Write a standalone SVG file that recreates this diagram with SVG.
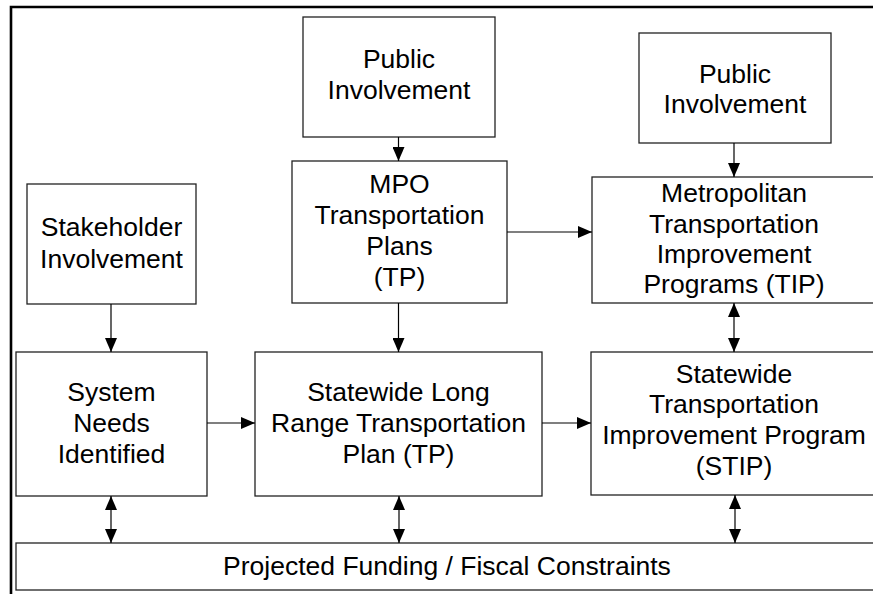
<svg xmlns="http://www.w3.org/2000/svg" width="873" height="594" viewBox="0 0 873 594">
<style>
.box{fill:#fff;stroke:#222;stroke-width:1.3}
.t{font-family:"Liberation Sans",Arial,sans-serif;font-size:26.5px;fill:#000;text-anchor:middle}
.c{stroke:#000;stroke-width:1.2;fill:none}
</style>
<defs>
<marker id="ah" viewBox="0 0 14 12" markerWidth="14" markerHeight="12" refX="14" refY="6" orient="auto-start-reverse" markerUnits="userSpaceOnUse">
<path d="M0,0 L14,6 L0,12 z" fill="#000"/>
</marker>
</defs>
<rect width="873" height="594" fill="#fff"/>
<path d="M11,600 V7 H880" fill="none" stroke="#000" stroke-width="2.6"/>

<g id="pi-center"><rect class="box" x="303" y="17" width="192" height="120"/>
<text class="t" x="399" y="68">Public</text><text class="t" x="399" y="99">Involvement</text></g>

<g id="pi-right"><rect class="box" x="639" y="33" width="192" height="110"/>
<text class="t" x="735" y="83">Public</text><text class="t" x="735" y="113">Involvement</text></g>

<g id="stakeholder"><rect class="box" x="27" y="184" width="169" height="120"/>
<text class="t" x="111.5" y="236">Stakeholder</text><text class="t" x="111.5" y="268">Involvement</text></g>

<g id="mpo"><rect class="box" x="292" y="161" width="215" height="142"/>
<text class="t" x="399.5" y="193">MPO</text><text class="t" x="399.5" y="224">Transportation</text><text class="t" x="399.5" y="255">Plans</text><text class="t" x="399.5" y="286">(TP)</text></g>

<g id="tip"><rect class="box" x="592" y="177" width="286" height="126"/>
<text class="t" x="734" y="202">Metropolitan</text><text class="t" x="734" y="233">Transportation</text><text class="t" x="734" y="263">Improvement</text><text class="t" x="734" y="293">Programs (TIP)</text></g>

<g id="system-needs"><rect class="box" x="16" y="352" width="191" height="144"/>
<text class="t" x="111.5" y="401">System</text><text class="t" x="111.5" y="432">Needs</text><text class="t" x="111.5" y="463">Identified</text></g>

<g id="slrtp"><rect class="box" x="255" y="352" width="287" height="144"/>
<text class="t" x="398.5" y="401">Statewide Long</text><text class="t" x="398.5" y="432">Range Transportation</text><text class="t" x="398.5" y="463">Plan (TP)</text></g>

<g id="stip"><rect class="box" x="591" y="352" width="287" height="143"/>
<text class="t" x="734" y="383">Statewide</text><text class="t" x="734" y="413">Transportation</text><text class="t" x="734" y="444">Improvement Program</text><text class="t" x="734" y="475">(STIP)</text></g>

<g id="funding"><rect class="box" x="16" y="543" width="862" height="47"/>
<text class="t" x="447" y="575">Projected Funding / Fiscal Constraints</text></g>

<g id="connectors">
<line class="c" x1="398.5" y1="137" x2="398.5" y2="161" marker-end="url(#ah)"/>
<line class="c" x1="734" y1="143" x2="734" y2="177" marker-end="url(#ah)"/>
<line class="c" x1="111" y1="304" x2="111" y2="352" marker-end="url(#ah)"/>
<line class="c" x1="398.5" y1="303" x2="398.5" y2="352" marker-end="url(#ah)"/>
<line class="c" x1="507" y1="232" x2="592" y2="232" marker-end="url(#ah)"/>
<line class="c" x1="207" y1="423" x2="255" y2="423" marker-end="url(#ah)"/>
<line class="c" x1="542" y1="423" x2="591" y2="423" marker-end="url(#ah)"/>
<line class="c" x1="734" y1="303" x2="734" y2="352" marker-start="url(#ah)" marker-end="url(#ah)"/>
<line class="c" x1="111" y1="496" x2="111" y2="543" marker-start="url(#ah)" marker-end="url(#ah)"/>
<line class="c" x1="399" y1="496" x2="399" y2="543" marker-start="url(#ah)" marker-end="url(#ah)"/>
<line class="c" x1="735" y1="495" x2="735" y2="543" marker-start="url(#ah)" marker-end="url(#ah)"/>
</g>
</svg>
